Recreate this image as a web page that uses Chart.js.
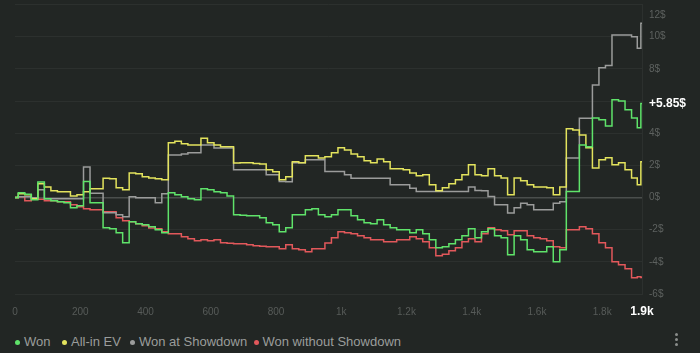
<!DOCTYPE html>
<html>
<head>
<meta charset="utf-8">
<script src="https://cdn.jsdelivr.net/npm/chart.js@4.4.1/dist/chart.umd.min.js"></script>
<style>
    html, body { margin: 0; padding: 0; background: #222624; }
    body { width: 700px; height: 353px; position: relative; overflow: hidden; font-family: "Liberation Sans", Arial, sans-serif; }
    #wrap { position: absolute; left: 0; top: 0; width: 700px; height: 325px; }
    .legend-item { position: absolute; top: 333px; display: flex; align-items: center; color: #9a9d9b; font-size: 13px; line-height: 18px; white-space: nowrap; }
    .legend-dot { width: 5px; height: 5px; border-radius: 50%; margin-right: 4px; }
    .menu { position: absolute; left: 675px; top: 333px; }
    .menu span { display: block; width: 3px; height: 3px; border-radius: 50%; background: #8a8d8b; margin-bottom: 2px; }
</style>
</head>
<body>
<div id="wrap"><canvas id="graphChart"></canvas></div>
<div id="legend"></div>
<div class="menu"><span></span><span></span><span></span></div>
<script>
// hands played (x)
const hands = [0, 20, 40, 60, 80, 100, 120, 140, 160, 180, 200, 220, 240, 260, 280, 300, 320, 340, 360, 380,
    400, 420, 440, 460, 480, 500, 520, 540, 560, 580, 600, 620, 640, 660, 680, 700, 720, 740, 760, 780,
    800, 820, 840, 860, 880, 900, 920, 940, 960, 980, 1000, 1020, 1040, 1060, 1080, 1100, 1120, 1140, 1160, 1180,
    1200, 1220, 1240, 1260, 1280, 1300, 1320, 1340, 1360, 1380, 1400, 1420, 1440, 1460, 1480, 1500, 1520, 1540, 1560, 1580,
    1600, 1620, 1640, 1660, 1680, 1700, 1720, 1740, 1760, 1780, 1800, 1820, 1840, 1860, 1880, 1900, 1915, 1922];

const won = [0, 0.29, 0.2, -0.14, 0.96, -0.08, -0.2, -0.27, -0.33, -0.64, -0.52, 1.0, -0.33, -0.33, -1.88, -1.94, -2.19, -2.81, -1.5, -1.63,
    -1.7, -1.82, -2.0, -2.19, 0.29, 0.17, 0.04, -0.08, -0.14, 0.54, 0.48, 0.35, 0.29, 0.1, -1.07, -1.1, -1.14, -1.14, -1.26, -1.57,
    -1.7, -2.13, -1.88, -1.07, -1.07, -0.76, -0.7, -1.07, -1.2, -1.07, -0.76, -0.76, -1.14, -1.39, -1.57, -1.63, -1.39, -1.7, -1.88, -2.0,
    -2.0, -2.19, -2.0, -2.25, -2.63, -3.12, -3.06, -2.88, -2.63, -2.38, -1.94, -2.5, -2.13, -1.94, -2.38, -2.5, -3.56, -2.38, -2.63, -3.25,
    -3.37, -3.37, -3.06, -4.0, -3.25, 0.37, 0.37, 3.27, 3.15, 4.95, 4.83, 4.45, 6.07, 6.0, 5.45, 4.95, 4.33, 5.85];

const allInEV = [0, 0.23, 0.17, -0.08, 0.85, 0.66, 0.42, 0.35, 0.35, 0.1, 0.17, 0.35, 0.54, 0.54, 1.19, 1.16, 0.6, 0.48, 1.53, 1.47,
    1.29, 1.22, 1.16, 1.1, 3.4, 3.49, 3.34, 3.27, 3.27, 3.68, 3.4, 3.27, 3.15, 3.15, 2.14, 2.16, 2.16, 2.12, 2.09, 1.72,
    1.6, 1.1, 1.29, 2.22, 2.16, 2.59, 2.59, 2.45, 2.53, 2.78, 3.09, 2.96, 2.71, 2.53, 2.28, 2.16, 2.4, 2.22, 1.78, 1.78,
    1.72, 1.53, 1.35, 1.41, 0.79, 0.42, 0.6, 0.85, 1.1, 1.41, 2.03, 1.41, 1.35, 1.78, 1.35, 1.22, 0.17, 1.22, 1.04, 0.79,
    0.66, 0.66, 0.6, 0.17, 0.66, 4.27, 4.2, 3.89, 3.09, 1.84, 2.34, 2.47, 2.03, 2.16, 1.72, 1.22, 0.79, 2.22];

const wonAtShowdown = [0, 0.04, 0.04, -0.02, 0.48, -0.08, -0.08, -0.08, -0.08, -0.08, -0.08, 1.9, 0.27, 0.27, -0.95, -0.95, -1.07, -1.2, 0.04, -0.02,
    -0.02, -0.02, -0.33, 0.23, 2.65, 2.65, 2.71, 2.78, 2.78, 3.27, 3.27, 3.07, 3.07, 3.07, 1.72, 1.72, 1.72, 1.72, 1.72, 1.41,
    1.41, 0.99, 0.98, 2.16, 2.16, 2.34, 2.34, 2.34, 1.61, 1.61, 1.61, 1.41, 1.2, 1.2, 1.2, 1.2, 1.2, 1.2, 0.79, 0.79,
    0.79, 0.58, 0.37, 0.37, 0.37, 0.37, 0.37, 0.37, 0.37, 0.37, 0.66, 0.43, 0.42, 0.06, -0.45, -0.45, -0.97, -0.64, -0.35, -0.45,
    -0.76, -0.76, -0.76, -0.35, -0.27, 2.45, 2.45, 4.93, 4.93, 7.0, 8.06, 8.21, 10.1, 10.1, 10.1, 10.0, 9.28, 10.83];

const wonWithoutShowdown = [0, 0.04, -0.2, -0.11, -0.11, -0.2, -0.2, -0.27, -0.27, -0.45, -0.58, -0.7, -0.76, -0.76, -0.89, -0.89, -1.26, -1.45, -1.51, -1.63,
    -1.76, -1.9, -1.94, -2.13, -2.25, -2.25, -2.44, -2.57, -2.69, -2.63, -2.69, -2.63, -2.81, -2.85, -2.88, -2.88, -2.94, -3.0, -3.03, -3.06,
    -3.06, -3.19, -2.94, -3.19, -3.25, -3.37, -3.19, -3.19, -2.83, -2.5, -2.13, -2.19, -2.25, -2.38, -2.5, -2.63, -2.63, -2.75, -2.75, -2.63,
    -2.63, -2.44, -2.57, -2.75, -3.12, -3.62, -3.53, -3.31, -3.12, -2.75, -2.57, -2.75, -2.25, -1.88, -2.0, -2.07, -2.32, -2.07, -2.07, -2.38,
    -2.5, -2.57, -2.69, -3.06, -3.12, -2.0, -2.0, -1.82, -1.94, -2.25, -2.81, -3.12, -4.0, -4.18, -4.43, -4.99, -4.93, -4.98];

const SERIES = [
    { label: 'Won', data: won, color: '#5fe36a' },
    { label: 'All-in EV', data: allInEV, color: '#e3e35d' },
    { label: 'Won at Showdown', data: wonAtShowdown, color: '#9b9c9b' },
    { label: 'Won without Showdown', data: wonWithoutShowdown, color: '#e2585b' }
];

const FONT = '"Liberation Sans", Arial, sans-serif';
const Y_MIN = -6;
const Y_MAX = 12;
const lastWon = won[won.length - 1];
const lastHand = hands[hands.length - 1];

function fmtHands(v) {
    return v >= 1000 ? (v / 1000) + 'k' : String(v);
}

// bold white labels for the last value on both axes, plus the top tick pushed inside
const lastLabels = {
    id: 'lastLabels',
    afterDraw(chart) {
        const { ctx, chartArea, scales } = chart;
        ctx.save();
        ctx.textBaseline = 'middle';
        ctx.textAlign = 'left';
        ctx.fillStyle = '#5d615f';
        ctx.font = '10px ' + FONT;
        ctx.fillText(Y_MAX + '$', chartArea.right + 7, scales.y.getPixelForValue(Y_MAX) + 11);

        ctx.fillStyle = '#ffffff';
        ctx.font = 'bold 12px ' + FONT;
        ctx.fillText('+' + lastWon.toFixed(2) + '$', chartArea.right + 7, scales.y.getPixelForValue(lastWon));
        ctx.textAlign = 'center';
        ctx.fillText((lastHand / 1000).toFixed(1) + 'k', scales.x.getPixelForValue(lastHand), scales.x.top + 18);
        ctx.restore();
    }
};

const ctx = document.getElementById('graphChart').getContext('2d');
new Chart(ctx, {
    type: 'line',
    data: {
        labels: hands,
        datasets: SERIES.map(s => ({
            label: s.label,
            data: s.data.map((v, i) => ({ x: hands[i], y: v })),
            borderColor: s.color,
            backgroundColor: s.color,
            borderWidth: 1.5,
            pointRadius: 0,
            stepped: 'middle',
            fill: false
        }))
    },
    options: {
        responsive: true,
        maintainAspectRatio: false,
        animation: false,
        layout: { padding: { left: 15, right: 0, top: 4.5, bottom: 0 } },
        scales: {
            x: {
                type: 'linear',
                min: 0,
                max: lastHand,
                grid: { display: false, drawTicks: false },
                border: { display: false },
                ticks: {
                    stepSize: 200,
                    includeBounds: false,
                    padding: 12,
                    color: '#575b59',
                    font: { size: 10, family: FONT },
                    maxRotation: 0,
                    autoSkip: false,
                    callback: v => fmtHands(v)
                },
                afterFit: axis => {
                    axis.height = 31;
                    axis.paddingLeft = 0;
                    axis.paddingRight = 0;
                }
            },
            y: {
                position: 'right',
                min: Y_MIN,
                max: Y_MAX,
                grid: {
                    drawTicks: false,
                    color: c => c.tick && c.tick.value === 0 ? '#4a4e4c' : '#2c302e',
                    lineWidth: c => c.tick && c.tick.value === 0 ? 1.5 : 1
                },
                border: { display: true, color: '#2c302e' },
                ticks: {
                    stepSize: 2,
                    padding: 7,
                    color: '#5d615f',
                    font: { size: 10, family: FONT },
                    callback: v => (v === Y_MAX || Math.abs(v - lastWon) < 1) ? '' : v + '$'
                },
                afterFit: axis => {
                    axis.width = 58;
                    axis.paddingTop = 0;
                    axis.paddingBottom = 0;
                }
            }
        },
        plugins: {
            legend: { display: false },
            tooltip: { enabled: false }
        }
    },
    plugins: [lastLabels]
});

// legend row
const legendLeft = [15, 62, 130, 253.5];
let legHtml = '';
SERIES.forEach((s, i) => {
    legHtml += `
        <div class="legend-item" style="left:${legendLeft[i]}px">
            <span class="legend-dot" style="background:${s.color}"></span>
            <span>${s.label}</span>
        </div>`;
});
document.getElementById('legend').innerHTML = legHtml;
</script>
</body>
</html>
